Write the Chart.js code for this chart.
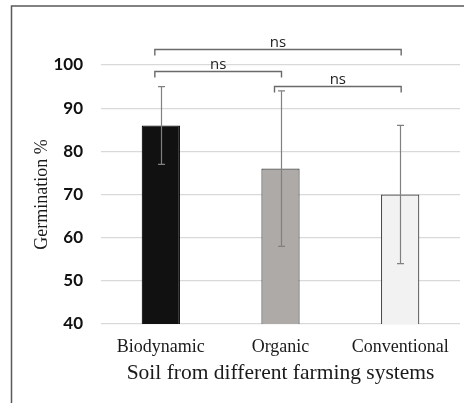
<!DOCTYPE html>
<html>
<head>
<meta charset="utf-8">
<script src="https://cdn.jsdelivr.net/npm/chart.js@4/dist/chart.umd.min.js"></script>
<style>
html,body{margin:0;padding:0;background:#fff;}
#wrap{width:464px;height:403px;position:relative;}
</style>
</head>
<body>
<div id="wrap"><canvas id="c" width="464" height="403"></canvas></div>
<script>
const categories = ["Biodynamic", "Organic", "Conventional"];
const germination = [86, 76, 70];
const errLow = [77, 58, 54];
const errHigh = [95, 94, 86];
const yTicks = [40, 50, 60, 70, 80, 90, 100];
const barColors = ["#111111", "#adaaa8", "#f2f2f2"];
// significance brackets: pairs of category indices, label, level (data units)
const bracketFrom = [0, 0, 1];
const bracketTo = [2, 1, 2];
const bracketLabel = ["ns", "ns", "ns"];
const bracketLevel = [103.6, 98.6, 95.2];

const framePlugin = {
  id: 'frame',
  beforeDraw(chart) {
    const ctx = chart.ctx;
    ctx.save();
    ctx.fillStyle = '#fff';
    ctx.fillRect(0, 0, chart.width, chart.height);
    ctx.strokeStyle = '#5a5a5a';
    ctx.lineWidth = 1.5;
    ctx.beginPath();
    ctx.moveTo(11.5, chart.height + 2);
    ctx.lineTo(11.5, 6);
    ctx.lineTo(chart.width + 2, 6);
    ctx.stroke();
    ctx.restore();
  }
};

const errPlugin = {
  id: 'errbars',
  afterDatasetsDraw(chart) {
    const ctx = chart.ctx;
    const meta = chart.getDatasetMeta(0);
    const y = chart.scales.y;
    ctx.save();
    ctx.strokeStyle = '#808080';
    ctx.lineWidth = 1.2;
    meta.data.forEach((bar, i) => {
      const x = Math.round(bar.x) + 0.5;
      const yh = y.getPixelForValue(errHigh[i]);
      const yl = y.getPixelForValue(errLow[i]);
      ctx.beginPath();
      ctx.moveTo(x, yh); ctx.lineTo(x, yl);
      ctx.moveTo(x - 3.5, yh); ctx.lineTo(x + 3.5, yh);
      ctx.moveTo(x - 3.5, yl); ctx.lineTo(x + 3.5, yl);
      ctx.stroke();
    });
    // brackets
    ctx.strokeStyle = '#6a6a6a';
    ctx.lineWidth = 1.4;
    ctx.fillStyle = '#222';
    ctx.font = '15px "Open Sans", sans-serif';
    ctx.textAlign = 'center';
    ctx.textBaseline = 'alphabetic';
    bracketFrom.forEach((a, k) => {
      const b = bracketTo[k];
      const x1 = meta.data[a].x - 6;
      const x2 = meta.data[b].x + 1;
      const yy = Math.round(y.getPixelForValue(bracketLevel[k])) + 0.5;
      ctx.beginPath();
      ctx.moveTo(x1, yy + 6); ctx.lineTo(x1, yy); ctx.lineTo(x2, yy); ctx.lineTo(x2, yy + 6);
      ctx.stroke();
      ctx.fillText(bracketLabel[k], (x1 + x2) / 2, yy - 2.5);
    });
    ctx.restore();
  }
};

new Chart(document.getElementById('c'), {
  type: 'bar',
  data: {
    labels: categories,
    datasets: [{
      data: germination,
      backgroundColor: barColors,
      borderColor: ["#111111", "#4a4a4a", "#4a4a4a"],
      borderWidth: 1.2,
      barPercentage: 0.32,
      categoryPercentage: 1.0
    }]
  },
  options: {
    responsive: false,
    animation: false,
    devicePixelRatio: 1,
    layout: { padding: { top: 65, right: 4, left: 0, bottom: 0 } },
    plugins: { legend: { display: false }, tooltip: { enabled: false } },
    scales: {
      y: {
        min: 40, max: 100,
        afterFit(s) { s.width = 101; },
        afterBuildTicks(s) { s.ticks = yTicks.map(v => ({ value: v })); },
        grid: { color: '#d9d9d9', lineWidth: 1.2, drawTicks: false },
        border: { display: false },
        ticks: { padding: 18, color: '#111', font: { family: 'Lato, "Open Sans", sans-serif', size: 17, weight: 'bold' } },
        title: {
          display: true, text: 'Germination %', color: '#1a1a1a',
          font: { family: '"Liberation Serif", "Times New Roman", serif', size: 18 },
          padding: { top: 31, bottom: 0 }
        }
      },
      x: {
        afterFit(s) { s.height = 79; },
        grid: { display: false, drawTicks: false },
        border: { display: false },
        ticks: { padding: 12, color: '#1a1a1a', font: { family: '"Liberation Serif", "Times New Roman", serif', size: 18 } },
        title: {
          display: true, text: 'Soil from different farming systems', color: '#1a1a1a',
          font: { family: '"Liberation Serif", "Times New Roman", serif', size: 21.5 },
          padding: { top: 0, bottom: 17 }
        }
      }
    }
  },
  plugins: [framePlugin, errPlugin]
});
</script>
</body>
</html>
